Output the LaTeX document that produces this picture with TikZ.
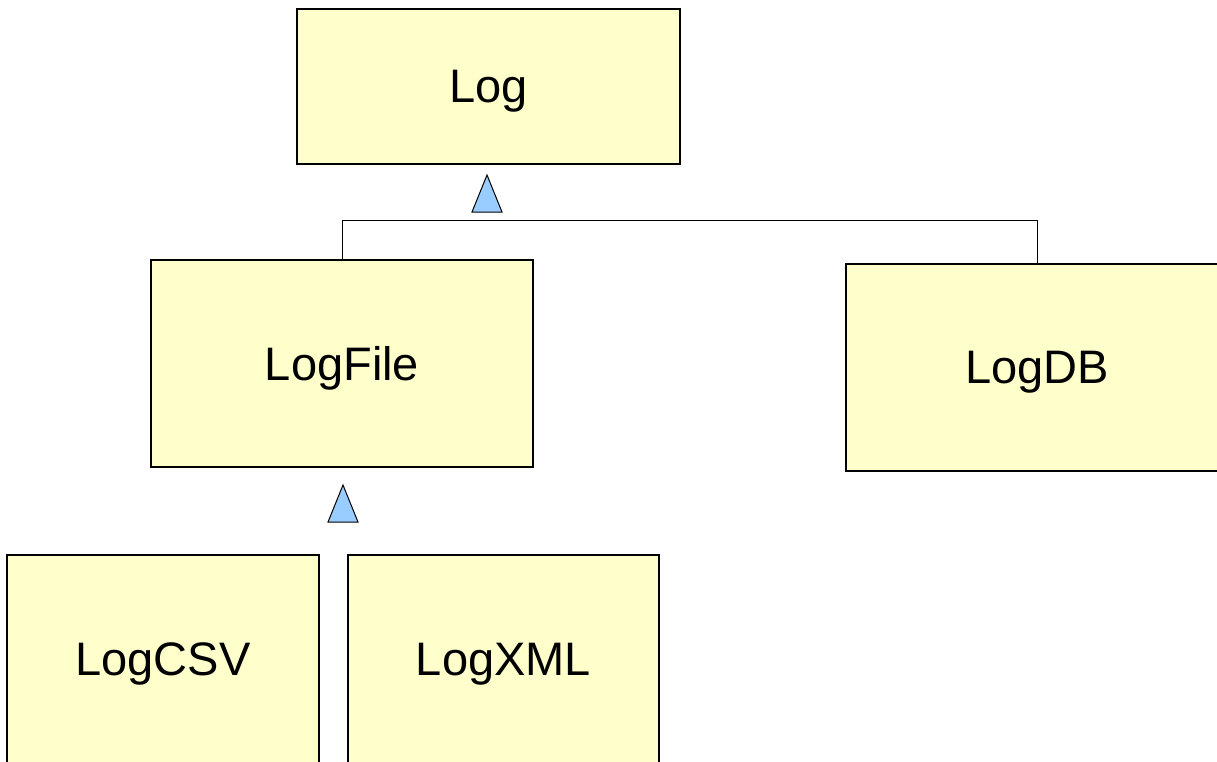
\documentclass[tikz,border=0pt]{standalone}
\usepackage{fontspec}
\setmainfont{Liberation Sans}
\begin{document}
\begin{tikzpicture}[x=1pt,y=-1pt,
  classbox/.style={draw=black, line width=1.3pt, fill={rgb,255:red,255;green,255;blue,204},
    inner sep=0pt, outer sep=0pt, text depth=0pt, font=\fontsize{47}{56}\selectfont},
  conn/.style={draw=black, line width=1pt},
  genarrow/.style={draw=black, line width=1pt, line join=miter, fill={rgb,255:red,153;green,204;blue,255}}]
\useasboundingbox (0,0) rectangle (1217,761);
% classes
\node[classbox, minimum width=383pt, minimum height=155pt] (log)  at (488.5,86.5)  {Log};
\node[classbox, minimum width=382pt, minimum height=207pt] (file) at (342,363.5)   {LogFile};
\node[classbox, minimum width=382pt, minimum height=207pt] (db)   at (1037,367.5)  {LogDB};
\node[classbox, minimum width=312pt, minimum height=208pt] (csv)  at (163,659)     {LogCSV};
\node[classbox, minimum width=311pt, minimum height=208pt] (xml)  at (503.5,659)   {LogXML};
% inheritance bus from LogFile and LogDB
\coordinate (bus) at (0,220);
\draw[conn] (file.north) |- (bus -| db.north) -- (db.north);
% generalisation heads
\coordinate (tri1) at (487,212);
\coordinate (tri2) at (343,522);
\draw[genarrow] (tri1) ++(-15,0) -- ++(15,-37) -- ++(15,37) -- cycle;
\draw[genarrow] (tri2) ++(-15,0) -- ++(15,-37) -- ++(15,37) -- cycle;
\end{tikzpicture}
\end{document}
